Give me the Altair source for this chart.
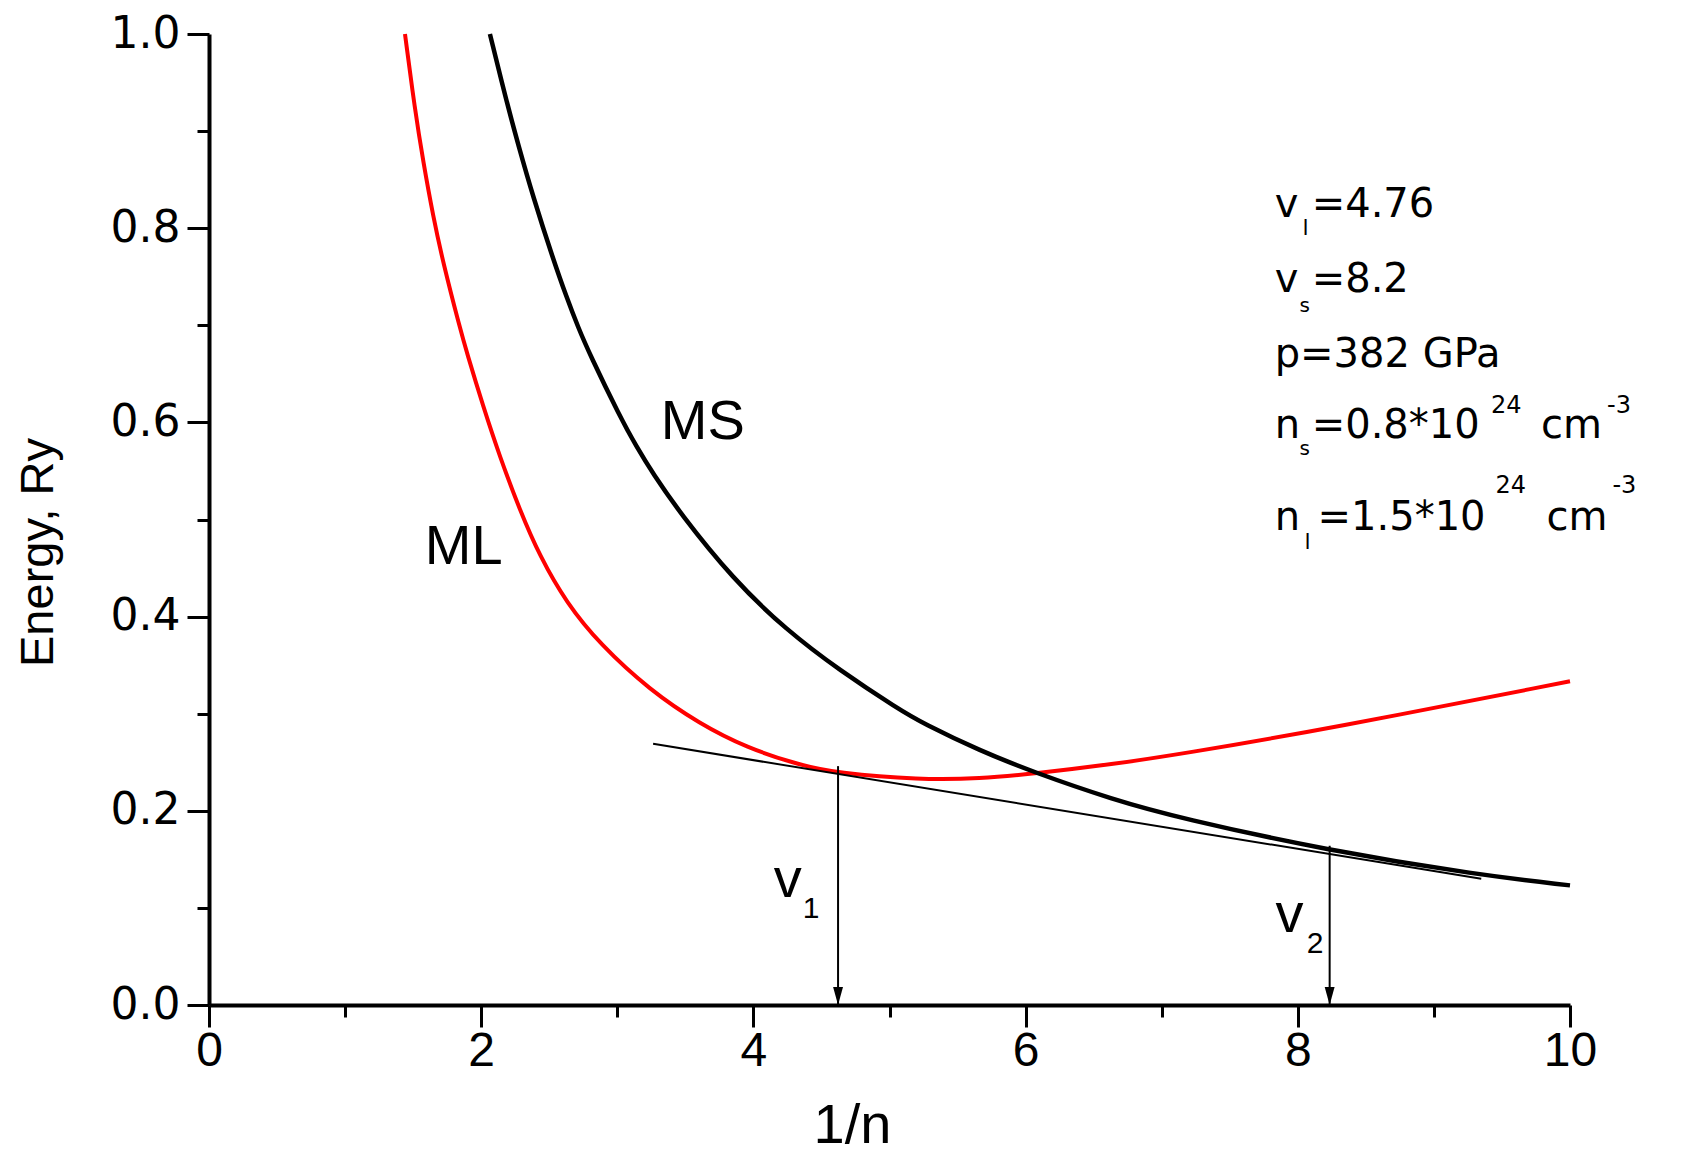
import altair as alt
import pandas as pd

# ---- data ----
ml_x = [1.440, 1.513, 1.574, 1.647, 1.721, 1.844, 1.893, 2.015, 2.137, 2.284, 2.431, 2.627,
        2.872, 3.239, 3.606, 3.949, 4.341, 4.610, 5.222, 5.663, 6.079, 6.642, 7.132, 8.234, 10.0]
ml_y = [1.0, 0.922, 0.8685, 0.8120, 0.7640, 0.6970, 0.6725, 0.6162, 0.5646, 0.5097, 0.4620, 0.4140,
        0.3716, 0.3242, 0.2895, 0.2650, 0.2470, 0.2390, 0.2318, 0.2330, 0.2385, 0.2480, 0.2582, 0.2847, 0.3334]

ms_x = [2.064, 2.187, 2.272, 2.382, 2.529, 2.627, 2.712, 2.798, 3.019, 3.141, 3.263, 3.459,
        3.851, 4.243, 4.635, 5.063, 5.246, 5.663, 6.054, 6.642, 7.132, 8.209, 9.335, 10.0]
ms_y = [1.0, 0.930, 0.886, 0.832, 0.768, 0.729, 0.698, 0.670, 0.606, 0.575, 0.547, 0.507,
        0.4385, 0.386, 0.3445, 0.305, 0.290, 0.262, 0.2400, 0.2115, 0.1925, 0.1595, 0.1338, 0.1232]

tangent_x = [3.263, 9.348]
tangent_y = [0.269, 0.130]

arrow_x = [4.622, 8.234]
arrow_top = [0.246, 0.164]
arrow_bottom = [0.0, 0.0]

curve_label_text = ["MS", "ML", "v", "v"]
curve_label_x = [3.320, 1.586, 4.150, 7.837]
curve_label_y = [0.5824, 0.454, 0.1108, 0.0747]

index_text = ["1", "2"]
index_x = [4.363, 8.065]
index_y = [0.0892, 0.0531]

param_text = ["v", "l", "=4.76",
              "v", "s", "=8.2",
              "p=382 GPa",
              "n", "s", "=0.8*10", "24", "cm", "-3",
              "n", "l", "=1.5*10", "24", "cm", "-3"]
param_x = [7.830, 8.035, 8.102,
           7.830, 8.013, 8.102,
           7.830,
           7.830, 8.013, 8.102, 9.420, 9.787, 10.272,
           7.830, 8.050, 8.145, 9.453, 9.827, 10.312]
param_y = [0.8117, 0.7932, 0.8117,
           0.7344, 0.7138, 0.7344,
           0.6571,
           0.5839, 0.5664, 0.5839, 0.6097, 0.5839, 0.6097,
           0.4891, 0.4695, 0.4891, 0.5272, 0.4891, 0.5272]
param_size = [40, 22, 40,
              40, 20, 40,
              40,
              40, 20, 40, 24, 40, 24,
              40, 22, 40, 24, 40, 24]

x_ticks = list(range(0, 11))
y_ticks = [i / 10 for i in range(11)]

# ---- tables ----
ml_df = pd.DataFrame({"x": ml_x, "y": ml_y})
ms_df = pd.DataFrame({"x": ms_x, "y": ms_y})
tan_df = pd.DataFrame({"x": tangent_x, "y": tangent_y})
arrow_df = pd.DataFrame({"x": arrow_x, "y": arrow_top, "bottom": arrow_bottom})
head_df = pd.DataFrame({"x": arrow_x, "y": arrow_bottom})
lab_df = pd.DataFrame({"t": curve_label_text, "x": curve_label_x, "y": curve_label_y,
                       "s": [56, 56, 56, 56]})
idx_df = pd.DataFrame({"t": index_text, "x": index_x, "y": index_y})
par_df = pd.DataFrame({"t": param_text, "x": param_x, "y": param_y, "s": param_size})

xscale = alt.Scale(domain=[0, 10], nice=False, zero=False)
yscale = alt.Scale(domain=[0, 1], nice=False, zero=False)

x_axis = alt.Axis(
    values=x_ticks,
    labelExpr="datum.value % 2 === 0 ? datum.label : ''",
    tickSize={"condition": {"test": "datum.value % 2 === 1", "value": 12}, "value": 22},
    tickWidth=3, tickColor="black", domainWidth=4, domainColor="black",
    labelFont="Liberation Sans", labelFontSize=48, labelColor="black", labelPadding=0,
    labelFlush=False, labelOverlap=False,
    title="1/n", titleFont="Liberation Sans", titleFontSize=56, titleFontWeight="normal",
    titleColor="black", titleX=643, titleY=137, titleBaseline="alphabetic",
    titleAlign="center", grid=False,
)
y_axis = alt.Axis(
    values=y_ticks,
    labelExpr="round(datum.value*10) % 2 === 0 ? format(datum.value, '.1f') : ''",
    tickSize={"condition": {"test": "round(datum.value*10) % 2 === 1", "value": 12}, "value": 22},
    tickWidth=3, tickColor="black", domainWidth=4, domainColor="black",
    labelFont="DejaVu Sans", labelFontSize=44, labelColor="black", labelPadding=7,
    labelFlush=False, labelOverlap=False,
    title="Energy, Ry", titleFont="Liberation Sans", titleFontSize=47, titleFontWeight="normal",
    titleColor="black", titleAngle=270, titleX=-157, titleY=518, titleBaseline="alphabetic",
    titleAlign="center", grid=False,
)


def X():
    return alt.X("x:Q", scale=xscale, axis=x_axis)


def Y():
    return alt.Y("y:Q", scale=yscale, axis=y_axis)


ml_line = alt.Chart(ml_df).mark_line(color="#ff0000", strokeWidth=4, interpolate="basis").encode(
    x=X(), y=Y()
)
ms_line = alt.Chart(ms_df).mark_line(color="black", strokeWidth=4.5, interpolate="basis").encode(
    x=X(), y=Y()
)
tan_line = alt.Chart(tan_df).mark_line(color="black", strokeWidth=2).encode(x=X(), y=Y())
arrow_rule = alt.Chart(arrow_df).mark_rule(color="black", strokeWidth=2).encode(
    x=X(), y=Y(), y2="bottom:Q"
)
arrow_head = alt.Chart(head_df).mark_point(
    shape="M-0.55,-1L0.55,-1L0,1Z", filled=True, color="black", opacity=1, size=324, yOffset=-9
).encode(x=X(), y=Y())
labels = alt.Chart(lab_df).mark_text(
    font="Liberation Sans", align="left", baseline="alphabetic", color="black"
).encode(
    x=X(), y=Y(), text="t:N", size=alt.Size("s:Q", scale=None, legend=None)
)
indices = alt.Chart(idx_df).mark_text(
    font="Liberation Sans", align="left", baseline="alphabetic", color="black", fontSize=30
).encode(x=X(), y=Y(), text="t:N")
params = alt.Chart(par_df).mark_text(
    font="DejaVu Sans", align="left", baseline="alphabetic", color="black"
).encode(
    x=X(), y=Y(), text="t:N", size=alt.Size("s:Q", scale=None, legend=None)
)

chart = alt.layer(
    ml_line, ms_line, tan_line, arrow_rule, arrow_head, labels, indices, params
).properties(
    width=1361,
    height=971,
    autosize=alt.AutoSizeParams(type="none"),
    padding={"left": 201, "top": 26, "right": 100, "bottom": 152},
    background="white",
).configure_view(stroke=None)

chart.save("out.html", embed_options={"renderer": "svg", "actions": False})
